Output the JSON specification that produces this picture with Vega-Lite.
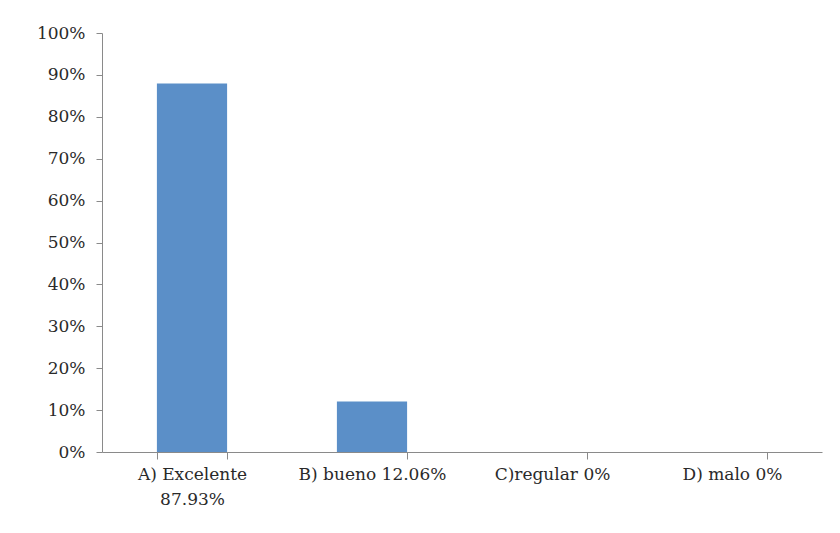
{
  "$schema": "https://vega.github.io/schema/vega-lite/v6.json",
  "width": 720,
  "height": 419,
  "autosize": "none",
  "padding": {"left": 102, "top": 33, "right": 18, "bottom": 81},
  "background": "white",
  "data": {"values": [
    {"cat": "A) Excelente\n87.93%", "pct": 0.8793},
    {"cat": "B) bueno 12.06%", "pct": 0.1206},
    {"cat": "C)regular 0%", "pct": 0},
    {"cat": "D) malo 0%", "pct": 0}
  ]},
  "mark": {"type": "bar", "color": "#5b8fc8"},
  "encoding": {
    "x": {
      "field": "cat", "type": "nominal", "sort": null,
      "scale": {"paddingInner": 0.61, "paddingOuter": 0.305},
      "axis": {
        "title": null, "labelAngle": 0, "tickBand": "extent",
        "labelExpr": "split(datum.label, '\\n')",
        "labelFont": "DejaVu Serif", "labelFontSize": 17, "labelColor": "#2a2a2a",
        "labelPadding": 7, "labelLineHeight": 25,
        "domainColor": "#8a8a8a", "tickColor": "#8a8a8a", "tickSize": 7,
        "labelBaseline": "top"
      }
    },
    "y": {
      "field": "pct", "type": "quantitative",
      "scale": {"domain": [0, 1], "nice": false},
      "axis": {
        "title": null, "format": ".0%", "values": [0,0.1,0.2,0.3,0.4,0.5,0.6,0.7,0.8,0.9,1],
        "grid": false, "labelFont": "DejaVu Serif", "labelFontSize": 17, "labelColor": "#2a2a2a",
        "labelPadding": 11, "domainColor": "#8a8a8a", "tickColor": "#8a8a8a", "tickSize": 6
      }
    }
  },
  "config": {"view": {"stroke": null}}
}
